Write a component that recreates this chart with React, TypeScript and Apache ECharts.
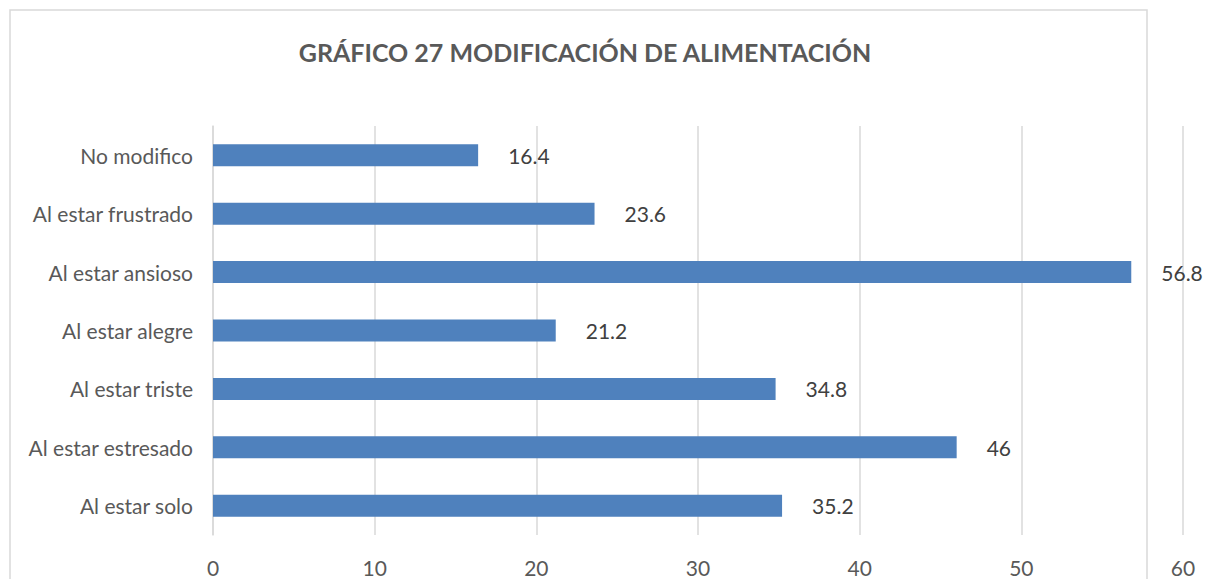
import React, { useEffect, useRef } from "react";
import * as echarts from "echarts";

const categories = [
  "Al estar solo",
  "Al estar estresado",
  "Al estar triste",
  "Al estar alegre",
  "Al estar ansioso",
  "Al estar frustrado",
  "No modifico",
];
const values = [35.2, 46, 34.8, 21.2, 56.8, 23.6, 16.4];
const title = "GRÁFICO 27 MODIFICACIÓN DE ALIMENTACIÓN";
const axisMin = 0;
const axisMax = 60;
const axisInterval = 10;

export default function App() {
  const ref = useRef<HTMLDivElement>(null);
  useEffect(() => {
    if (!ref.current) return;
    const chart = echarts.init(ref.current, undefined, { renderer: "svg" });
    chart.setOption({
      animation: false,
      backgroundColor: "#ffffff",
      title: {
        text: title,
        left: 580,
        top: 34,
        textAlign: "center",
        textStyle: {
          fontFamily: "Lato",
          fontSize: 25,
          fontWeight: "bold",
          color: "#595959",
        },
      },
      graphic: [
        {
          type: "rect",
          shape: { x: 10, y: 10, width: 1137, height: 600 },
          style: { fill: "none", stroke: "#d9d9d9", lineWidth: 1.5 },
          silent: true,
        },
      ],
      grid: { left: 213, right: 26, top: 126, bottom: 44, containLabel: false },
      xAxis: {
        type: "value",
        min: axisMin,
        max: axisMax,
        interval: axisInterval,
        axisLine: { show: false },
        axisTick: { show: false },
        splitLine: { show: true, lineStyle: { color: "#d9d9d9", width: 1.5 } },
        axisLabel: {
          fontFamily: "Lato",
          fontSize: 21,
          color: "#595959",
          margin: 22,
        },
      },
      yAxis: {
        type: "category",
        data: categories,
        axisLine: { show: true, lineStyle: { color: "#d9d9d9", width: 1.5 } },
        axisTick: { show: false },
        axisLabel: {
          fontFamily: "Lato",
          fontSize: 21,
          color: "#595959",
          margin: 20,
        },
      },
      series: [
        {
          type: "bar",
          data: values,
          barWidth: 22,
          itemStyle: { color: "#4f81bd" },
          label: {
            show: true,
            position: "right",
            distance: 30,
            fontFamily: "Lato",
            fontSize: 21,
            color: "#404040",
          },
        },
      ],
    });
    return () => chart.dispose();
  }, []);
  return (
    <div
      ref={ref}
      style={{ position: "absolute", left: 0, top: 0, width: 1209, height: 579 }}
    />
  );
}
